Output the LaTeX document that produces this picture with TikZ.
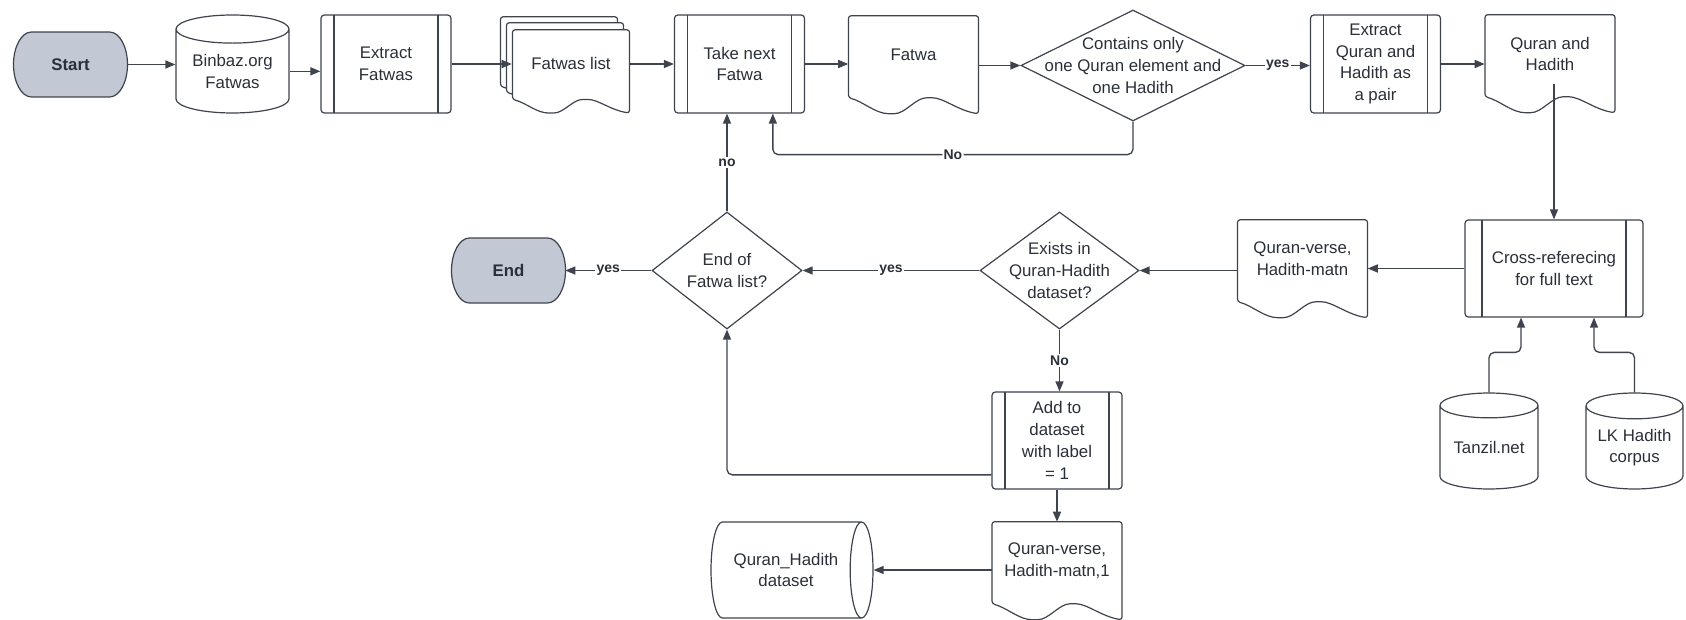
\documentclass[tikz,border=0pt]{standalone}
\usepackage{fontspec}
\setmainfont{Liberation Sans}
\usepackage{xcolor}
\usetikzlibrary{shapes.geometric,arrows.meta,calc,backgrounds}

\definecolor{linegray}{RGB}{62,67,77}
\definecolor{termfill}{RGB}{194,200,212}
\definecolor{textgray}{RGB}{42,47,56}

\tikzset{
  termshape/.pic={
    \draw[line, fill=termfill] (-39,-32.5) -- (39,-32.5) arc[start angle=-90, end angle=90, x radius=18, y radius=32.5] -- (-39,32.5) arc[start angle=90, end angle=270, x radius=18, y radius=32.5] -- cycle;
  },
  docshape/.pic={
    \draw[line, fill=white, rounded corners=2pt] (65,-98) .. controls (45,-95) and (30,-82) .. (16,-82) .. controls (2,-82) and (-8,-98) .. (-22,-98) .. controls (-38,-98) and (-50,-86) .. (-65,-82) -- (-65,0) -- (65,0) -- cycle;
  },
  multidocshape/.pic={
    \pic[xscale=0.9,yscale=0.85] at (-12,13) {docshape};
    \pic[xscale=0.9,yscale=0.85] at (-6,7) {docshape};
    \pic[xscale=0.9,yscale=0.85] at (0,0) {docshape};
  }
}

\begin{document}
\begin{tikzpicture}[x=0.75pt,y=0.75pt,yscale=-1,xscale=1,
  line/.style={draw=linegray, line width=0.9pt},
  arr/.style={draw=linegray, line width=1pt, -{Triangle[length=7.5pt,width=6pt]}},
  txt/.style={text=textgray, font=\fontsize{12.6}{16.3}\selectfont, align=center, inner sep=0pt},
  lbl/.style={text=textgray, font=\bfseries\fontsize{10.5}{12}\selectfont, fill=white, inner sep=1pt},
  termnode/.style={txt, font=\bfseries\fontsize{12.6}{16.3}\selectfont, minimum width=85.5pt, minimum height=48.75pt},
  docnode/.style={txt, minimum width=97.5pt, minimum height=58.5pt},
  procbox/.style={txt, line, fill=white, rounded corners=2.5pt, minimum width=97.5pt, minimum height=73.5pt,
    path picture={\draw[line] ([xshift=#1]path picture bounding box.north west) -- ([xshift=#1]path picture bounding box.south west)
      ([xshift=-#1]path picture bounding box.north east) -- ([xshift=-#1]path picture bounding box.south east);}},
  procbox/.default=9.75pt,
  dbnode/.style={txt, line, cylinder, shape border rotate=90, aspect=0.35, anchor=shape center},
  decision/.style={txt, line, diamond, inner sep=-12pt}
]
\useasboundingbox (0,0) rectangle (1686,620);

%Top row
\node[termnode] (start) at (70.5,64.5) {Start};
\node[dbnode, minimum width=84.75pt, minimum height=73.5pt] (binbaz) at (232.5,64) {Binbaz.org\\Fatwas};
\node[procbox] (extract) at (386,64) {Extract\\Fatwas};
\node[docnode, minimum width=88.5pt, minimum height=49.5pt] (flist) at (571,63) {Fatwas list};
\node[procbox] (takenext) at (739.5,64) {Take next\\Fatwa};
\node[docnode] (fatwa) at (913.5,55) {Fatwa};
\node[decision, aspect=2, minimum width=168pt, minimum height=83.25pt] (check) at (1133,65.5) {Contains only\\one Quran element and\\one Hadith};
\node[procbox] (pair) at (1375.5,64) {Extract\\Quran and\\Hadith as\\a pair};
\node[docnode] (qh) at (1550,54) {Quran and\\Hadith};

%Middle row
\node[procbox=12.75pt, minimum width=133.5pt, minimum height=72.75pt] (crossref) at (1554,268.5) {Cross-referecing\\for full text};
\node[docnode] (verse) at (1302.5,259) {Quran-verse,\\Hadith-matn};
\node[decision, minimum width=119.25pt, minimum height=87.75pt] (exists) at (1059.5,270.5) {Exists in\\Quran-Hadith\\dataset?};
\node[decision, minimum width=112.5pt, minimum height=87.75pt] (endlist) at (727,270.5) {End of\\Fatwa list?};
\node[termnode, minimum width=84.75pt] (finish) at (508.5,270.5) {End};

%Bottom row
\node[dbnode, minimum width=73.5pt, minimum height=72pt] (tanzil) at (1489,441) {Tanzil.net};
\node[dbnode, minimum width=72.75pt, minimum height=72pt] (lkcorpus) at (1634.5,441) {LK Hadith\\corpus};
\node[procbox, minimum height=72.75pt] (add) at (1057,440.5) {Add to\\dataset\\with label\\= 1};
\node[docnode] (verseone) at (1057,561) {Quran-verse,\\Hadith-matn,1};
\node[txt, line, cylinder, aspect=0.67, anchor=shape center, minimum width=72pt, minimum height=121.5pt] (dataset) at (792,570) {Quran\_Hadith\\dataset};

%Shapes drawn behind the nodes
\begin{scope}[on background layer]
\pic at (start) {termshape};
\pic at (finish) {termshape};
\pic at (flist.north) {multidocshape};
\pic at (fatwa.north) {docshape};
\pic at (qh.north) {docshape};
\pic at (verse.north) {docshape};
\pic at (verseone.north) {docshape};
\end{scope}

%Connectors
\draw[arr] (start.east) -- (start.east -| binbaz.west);
\draw[arr] (binbaz.east) -- (binbaz.east -| extract.west);
\draw[arr] (extract.east) -- (extract.east -| flist.west);
\draw[arr] (takenext.west -| flist.east) -- (takenext.west);
\draw[arr] (takenext.east) -- (takenext.east -| fatwa.west);
\draw[arr] (check.west -| fatwa.east) -- (check.west);
\draw[arr] (check.east) -- node[lbl] (yescheck) {yes} (check.east -| pair.west);
\draw[arr] (pair.east) -- (pair.east -| qh.west);
\draw[arr, rounded corners=4pt] (check.south) -- ++(0,33) -| node[lbl, pos=0.25] (nocheck) {No} ([xshift=25pt]takenext.south);
\draw[arr, shorten <=-7pt] (crossref.north |- qh.south) -- (crossref.north);
\draw[arr, rounded corners=4pt] (tanzil.north) -- ++(0,-40) -| ([xshift=-24.75pt]crossref.south);
\draw[arr, rounded corners=4pt] (lkcorpus.north) -- ++(0,-40) -| ([xshift=30pt]crossref.south);
\draw[arr] (crossref.west) -- (crossref.west -| verse.east);
\draw[arr] (exists.east -| verse.west) -- (exists.east);
\draw[arr] (exists.west) -- node[lbl] (yesexists) {yes} (endlist.east);
\draw[arr] (endlist.west) -- node[lbl] (yesend) {yes} (endlist.west -| finish.east);
\draw[arr] (endlist.north) -- node[lbl] (noend) {no} (endlist.north |- takenext.south);
\draw[arr] (exists.south) -- node[lbl] (noexists) {No} (exists.south |- add.north);
\draw[arr, rounded corners=4pt] ($(add.south west)!0.15!(add.north west)$) -| (endlist.south);
\draw[arr] (add.south) -- (verseone.north);
\draw[arr] (dataset.east -| verseone.west) -- (dataset.east);

\end{tikzpicture}
\end{document}
